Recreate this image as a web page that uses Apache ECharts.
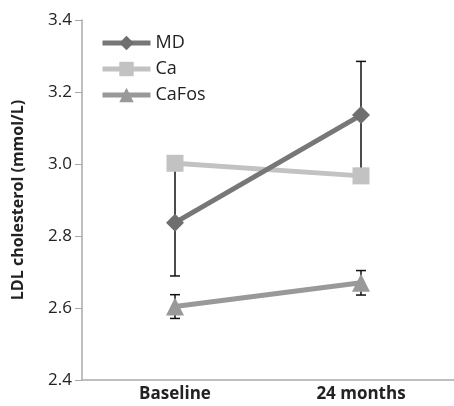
<!DOCTYPE html>
<html>
<head>
<meta charset="utf-8">
<script src="https://cdn.jsdelivr.net/npm/echarts@6/dist/echarts.min.js"></script>
<style>
  html, body { margin: 0; padding: 0; background: #fff; }
  #chart { width: 454px; height: 406px; }
</style>
</head>
<body>
<div id="chart"></div>
<script>
// data
const categories = ["Baseline", "24 months"];
const mdValues = [2.837, 3.136];
const mdErr = [0.148, 0.149];
const caValues = [3.002, 2.967];
const cafosValues = [2.604, 2.670];
const cafosErr = [0.033, 0.034];

const font = "'Open Sans', 'Noto Sans', sans-serif";

// error bar rows: [categoryIndex, low, high]
function errRows(vals, errs) {
  return vals.map((v, i) => [i, v - errs[i], v + errs[i]]);
}
const errData = errRows(mdValues, mdErr).concat(errRows(cafosValues, cafosErr));

const chart = echarts.init(document.getElementById("chart"));
chart.setOption({
  animation: false,
  textStyle: { fontFamily: font },
  grid: { left: 82, right: 0, top: 20, bottom: 26 },
  legend: {
    orient: "vertical",
    left: 95,
    top: 29,
    itemWidth: 48,
    itemHeight: 18,
    itemGap: 8,
    lineStyle: { width: 5 },
    textStyle: { fontSize: 18, color: "#222", fontFamily: font },
    data: ["MD", "Ca", "CaFos"]
  },
  xAxis: {
    type: "category",
    data: categories,
    axisLine: { lineStyle: { color: "#aaa", width: 1.5 } },
    axisTick: { show: false },
    axisLabel: { fontSize: 17, fontWeight: "bold", color: "#222", margin: 6 }
  },
  yAxis: {
    type: "value",
    min: 2.4,
    max: 3.4,
    interval: 0.2,
    name: "LDL cholesterol (mmol/L)",
    nameLocation: "middle",
    nameGap: 56,
    nameTextStyle: { fontSize: 16, fontWeight: "bold", color: "#222" },
    axisLine: { show: true, lineStyle: { color: "#aaa", width: 1.5 } },
    axisTick: { show: true, length: 7, lineStyle: { color: "#aaa" } },
    splitLine: { show: false },
    axisLabel: {
      fontSize: 17, color: "#222", margin: 10,
      formatter: v => v.toFixed(1)
    }
  },
  series: [
    {
      type: "custom",
      name: "err",
      z: 1,
      data: errData,
      renderItem: function (params, api) {
        const x = api.value(0);
        const lo = api.coord([x, api.value(1)]);
        const hi = api.coord([x, api.value(2)]);
        const cap = 5;
        const style = { stroke: "#111", lineWidth: 1.5 };
        return {
          type: "group",
          children: [
            { type: "line", shape: { x1: lo[0], y1: lo[1], x2: hi[0], y2: hi[1] }, style },
            { type: "line", shape: { x1: lo[0] - cap, y1: lo[1], x2: lo[0] + cap, y2: lo[1] }, style },
            { type: "line", shape: { x1: hi[0] - cap, y1: hi[1], x2: hi[0] + cap, y2: hi[1] }, style }
          ]
        };
      }
    },
    {
      name: "MD",
      type: "line",
      z: 4,
      data: mdValues,
      symbol: "diamond",
      symbolSize: 18,
      lineStyle: { color: "#777", width: 5 },
      itemStyle: { color: "#6f6f6f" }
    },
    {
      name: "Ca",
      type: "line",
      z: 3,
      data: caValues,
      symbol: "rect",
      symbolSize: 17,
      lineStyle: { color: "#c2c2c2", width: 5 },
      itemStyle: { color: "#c2c2c2" }
    },
    {
      name: "CaFos",
      type: "line",
      z: 3,
      data: cafosValues,
      symbol: "triangle",
      symbolSize: 18,
      lineStyle: { color: "#999", width: 5 },
      itemStyle: { color: "#999" }
    }
  ]
});
</script>
</body>
</html>
